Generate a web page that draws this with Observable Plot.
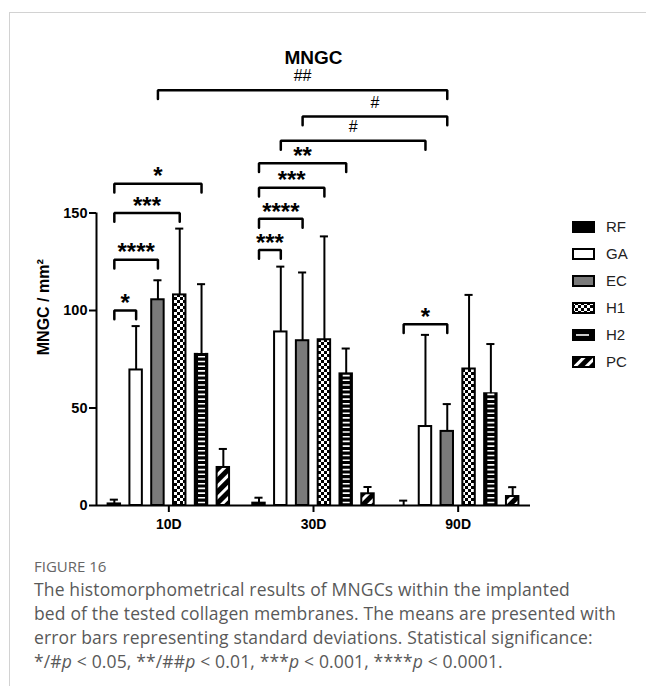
<!DOCTYPE html>
<html><head><meta charset="utf-8">
<script src="https://cdn.jsdelivr.net/npm/d3@7"></script>
<script src="https://cdn.jsdelivr.net/npm/@observablehq/plot@0.6"></script>
<style>
body{margin:0;background:#fff;width:646px;height:686px;position:relative;overflow:hidden;font-family:"Liberation Sans",Arial,sans-serif}
#frame{position:absolute;left:9px;top:12px;width:640px;height:700px;border-top:1px solid #d2d2d2;border-left:1px solid #d2d2d2}
#chart{position:absolute;left:0;top:0}
#legend{position:absolute;left:572px;top:213px}
.row{display:flex;align-items:center;height:27px}
.row span{font-size:15px;color:#222;margin-left:11px}
#caption{position:absolute;left:34px;top:555px;font-family:"Open Sans",sans-serif;color:#595959;white-space:nowrap}
#caption .fig{font-size:15px;line-height:22px;color:#666;font-weight:500}
#caption .txt{font-size:17.5px;line-height:24px;font-weight:400;letter-spacing:0.15px}
</style></head>
<body>
<svg width="0" height="0" style="position:absolute">
<defs>
<pattern id="checker" width="6" height="6" patternUnits="userSpaceOnUse">
<rect width="6" height="6" fill="#000"/>
<rect x="0" y="0" width="3" height="3" fill="#fff"/>
<rect x="3" y="3" width="3" height="3" fill="#fff"/>
</pattern>
<pattern id="diag" width="8" height="8" patternUnits="userSpaceOnUse" patternTransform="rotate(45)">
<rect width="8" height="8" fill="#000"/>
<rect width="3" height="8" fill="#fff"/>
</pattern>
</defs>
</svg>
<div id="frame"></div>
<div id="chart"></div>
<div id="legend"></div>
<div id="caption"><div class="fig">FIGURE 16</div><div class="txt">The histomorphometrical results of MNGCs within the implanted<br>bed of the tested collagen membranes. The means are presented with<br>error bars representing standard deviations. Statistical significance:<br>*/#<i>p</i> &lt; 0.05, **/##<i>p</i> &lt; 0.01, ***<i>p</i> &lt; 0.001, ****<i>p</i> &lt; 0.0001.</div></div>
<script>
// ---- data ----
const groups = ["10D", "30D", "90D"];
const series = ["RF", "GA", "EC", "H1", "H2", "PC"];
const mean10D = [0.8, 69.5, 105.5, 108, 77.5, 19.5];
const sd10D   = [2.2, 22.5, 10, 34, 36, 9.5];
const mean30D = [1.2, 89, 84.5, 85, 67.5, 6];
const sd30D   = [2.8, 33.5, 35, 53, 13, 3.5];
const mean90D = [0, 40.5, 38, 70, 57.3, 4.6];
const sd90D   = [2.5, 47, 14, 38, 25.5, 4.8];
const yTicks = [0, 50, 100, 150];
const yLabel = "MNGC / mm²";
const title = "MNGC";
// significance brackets: [group1, series1, group2, series2, height, label]
const brackets = [
  ["10D", "RF", "10D", "GA", 100, "*"],
  ["10D", "RF", "10D", "EC", 126, "****"],
  ["10D", "RF", "10D", "H1", 150, "***"],
  ["10D", "RF", "10D", "H2", 165, "*"],
  ["30D", "RF", "30D", "GA", 131, "***"],
  ["30D", "RF", "30D", "EC", 147, "****"],
  ["30D", "RF", "30D", "H1", 163, "***"],
  ["30D", "RF", "30D", "H2", 175.5, "**"],
  ["30D", "GA", "90D", "GA", 187, "#"],
  ["30D", "EC", "90D", "EC", 199.5, "#"],
  ["10D", "EC", "90D", "EC", 213, "##"],
  ["90D", "RF", "90D", "EC", 93, "*"]
];

// ---- styles ----
const fills = {RF: "#000", GA: "#fff", EC: "#7a7a7a", H1: "url(#checker)", H2: "#000", PC: "url(#diag)"};
const barStep = 0.1507, barHalf = 0.043, capHalf = 0.028, drop = 4.5;

const means = [mean10D, mean30D, mean90D];
const sds = [sd10D, sd30D, sd90D];
const pos = (g, s) => groups.indexOf(g) + (series.indexOf(s) - 2.5) * barStep;
const rows = [];
groups.forEach((g, gi) => series.forEach((s, si) => rows.push({g, s, mean: means[gi][si], sd: sds[gi][si], xc: pos(g, s)})));

const bPts = [];
const bLab = [];
brackets.forEach(([g1, s1, g2, s2, h, label], k) => {
  const xa = pos(g1, s1), xb = pos(g2, s2);
  bPts.push({k, x: xa, y: h - drop}, {k, x: xa, y: h}, {k, x: xb, y: h}, {k, x: xb, y: h - drop});
  bLab.push({x: (xa + xb) / 2, y: h, label, hash: label.startsWith("#")});
});

const marks = [];
series.forEach(s => {
  marks.push(Plot.rectY(rows.filter(d => d.s === s), {
    x1: d => d.xc - barHalf, x2: d => d.xc + barHalf, y1: 0, y2: "mean",
    fill: fills[s], stroke: "#000", strokeWidth: 2
  }));
});
marks.push(Plot.ruleX(rows.filter(d => d.s === "H2"), {
  x: "xc", y1: 0, y2: "mean", stroke: "#fff", strokeWidth: 7,
  strokeDasharray: "1.6,3.1", insetTop: 3, insetBottom: 3
}));
marks.push(Plot.ruleX(rows, {x: "xc", y1: "mean", y2: d => d.mean + d.sd, strokeWidth: 2}));
marks.push(Plot.ruleY(rows, {y: d => d.mean + d.sd, x1: d => d.xc - capHalf, x2: d => d.xc + capHalf, strokeWidth: 2}));
marks.push(Plot.ruleY([0], {strokeWidth: 2}));
marks.push(Plot.ruleX([-0.5], {y1: 0, y2: 150, strokeWidth: 2}));
marks.push(Plot.axisY({ticks: yTicks, tickSize: 7, tickPadding: 2, fontSize: 14.5, fontWeight: "bold", strokeWidth: 2, label: null}));
marks.push(Plot.axisX({ticks: [0, 1, 2], tickFormat: i => groups[i], tickSize: 7, tickPadding: 7, fontSize: 14, fontWeight: "bold", strokeWidth: 2, label: null}));
marks.push(Plot.line(bPts, {x: "x", y: "y", z: "k", strokeWidth: 2.5, strokeLinejoin: "miter"}));
marks.push(Plot.text(bLab.filter(d => !d.hash), {x: "x", y: "y", text: "label", dy: -7, fontSize: 24, fontWeight: "bold", letterSpacing: 3}));
marks.push(Plot.text(bLab.filter(d => d.hash), {x: "x", y: "y", text: "label", dy: -14, fontSize: 16}));
marks.push(Plot.text([yLabel], {frameAnchor: "left", dx: -53, dy: -4, rotate: -90, fontSize: 16, fontWeight: "bold"}));
marks.push(Plot.text([title], {frameAnchor: "top", dy: -163, fontSize: 19, fontWeight: "bold"}));

const chart = Plot.plot({
  width: 646, height: 550,
  marginLeft: 96, marginRight: 116, marginTop: 212.5, marginBottom: 45,
  style: {fontFamily: "'Liberation Sans', Arial, sans-serif", color: "#000", background: "transparent", overflow: "visible"},
  x: {domain: [-0.5, 2.5]},
  y: {domain: [0, 150]},
  marks
});
document.getElementById("chart").appendChild(chart);

// legend
const leg = document.getElementById("legend");
series.forEach(s => {
  const row = document.createElement("div");
  row.className = "row";
  const extra = s === "H2" ? '<line x1="4" x2="17" y1="6" y2="6" stroke="#fff" stroke-width="1.6"/>' : "";
  row.innerHTML = `<svg width="23" height="12"><rect x="1" y="1" width="21" height="10" fill="${fills[s]}" stroke="#000" stroke-width="2"/>${extra}</svg><span>${s}</span>`;
  leg.appendChild(row);
});
</script>
</body></html>
